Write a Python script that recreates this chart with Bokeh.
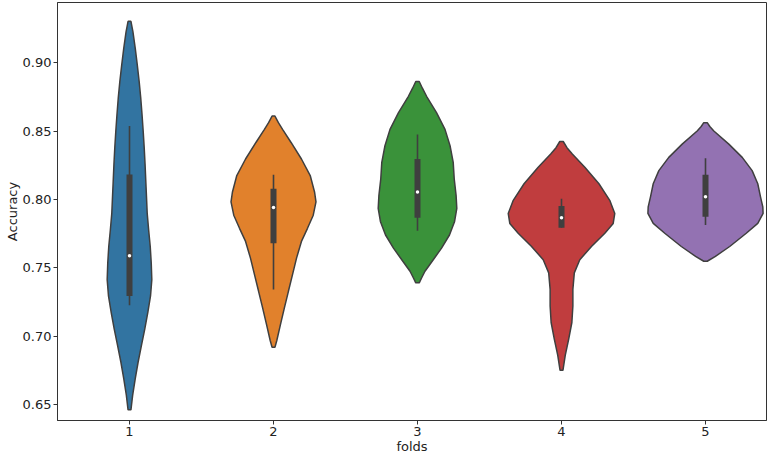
from bokeh.plotting import figure
from bokeh.models import Range1d, FixedTicker
from bokeh.embed import file_html
from bokeh.resources import INLINE

folds = ["1", "2", "3", "4", "5"]
colors = ["#3274a1", "#e1812c", "#3a923a", "#c03d3e", "#9372b2"]

# violin profiles: accuracy levels (top to bottom) and half-widths (category units)
acc1 = [0.9304, 0.9227, 0.9107, 0.8986, 0.8865, 0.8744, 0.8623, 0.8502, 0.8382, 0.8261,
        0.8140, 0.8020, 0.7899, 0.7778, 0.7657, 0.7536, 0.7415, 0.7295, 0.7174, 0.7053,
        0.6933, 0.6812, 0.6691, 0.6570, 0.6462]
half1 = [0.010, 0.024, 0.040, 0.054, 0.067, 0.078, 0.087, 0.095, 0.102, 0.108,
         0.113, 0.118, 0.123, 0.133, 0.144, 0.151, 0.155, 0.146, 0.127, 0.106,
         0.083, 0.060, 0.040, 0.022, 0.010]

acc2 = [0.8611, 0.8563, 0.8514, 0.8418, 0.8297, 0.8176, 0.8056, 0.7983, 0.7886, 0.7790,
        0.7694, 0.7572, 0.7451, 0.7331, 0.7210, 0.7089, 0.6969, 0.6920]
half2 = [0.010, 0.034, 0.063, 0.122, 0.194, 0.255, 0.285, 0.295, 0.276, 0.236,
         0.194, 0.160, 0.132, 0.104, 0.076, 0.049, 0.023, 0.010]

acc3 = [0.8864, 0.8815, 0.8756, 0.8636, 0.8514, 0.8394, 0.8273, 0.8152, 0.8031, 0.7935,
        0.7838, 0.7741, 0.7645, 0.7549, 0.7476, 0.7430, 0.7391]
half3 = [0.012, 0.034, 0.063, 0.132, 0.191, 0.226, 0.248, 0.255, 0.268, 0.273,
         0.257, 0.222, 0.167, 0.102, 0.052, 0.030, 0.012]

acc4 = [0.8425, 0.8380, 0.8333, 0.8237, 0.8116, 0.7995, 0.7899, 0.7826, 0.7754, 0.7657,
        0.7560, 0.7464, 0.7343, 0.7222, 0.7101, 0.6980, 0.6860, 0.6751]
half4 = [0.012, 0.038, 0.075, 0.162, 0.260, 0.335, 0.370, 0.359, 0.301, 0.208,
         0.127, 0.089, 0.079, 0.079, 0.072, 0.050, 0.026, 0.010]

acc5 = [0.8563, 0.8535, 0.8502, 0.8406, 0.8309, 0.8212, 0.8116, 0.8020, 0.7947, 0.7899,
        0.7826, 0.7754, 0.7657, 0.7585, 0.7549]
half5 = [0.012, 0.030, 0.058, 0.162, 0.255, 0.324, 0.363, 0.382, 0.398, 0.400,
         0.363, 0.283, 0.168, 0.069, 0.012]

# inner box statistics
whisker_lo = [0.7227, 0.7343, 0.7773, 0.7795, 0.7814]
q1 = [0.7295, 0.7681, 0.7867, 0.7795, 0.7875]
median = [0.7589, 0.7942, 0.8056, 0.7867, 0.8020]
q3 = [0.8183, 0.8080, 0.8297, 0.7954, 0.8181]
whisker_hi = [0.8538, 0.8181, 0.8476, 0.8007, 0.8302]

y_ticks = [0.65, 0.70, 0.75, 0.80, 0.85, 0.90]

accs = [acc1, acc2, acc3, acc4, acc5]
halves = [half1, half2, half3, half4, half5]
pos = list(range(len(folds)))

p = figure(width=767, height=456, output_backend="svg", toolbar_location=None,
           x_range=Range1d(-0.5, 4.4236), y_range=Range1d(0.6384, 0.9442),
           min_border_left=57, min_border_right=1, min_border_top=2, min_border_bottom=32)

xs, ys = [], []
for i, (a, h) in enumerate(zip(accs, halves)):
    right = [i + w for w in h]
    left = [i - w for w in reversed(h)]
    xs.append(right + left)
    ys.append(list(a) + list(reversed(a)))

edge = "#3f3f3f"
p.patches(xs, ys, fill_color=colors, line_color=edge, line_width=1.5)
p.segment(x0=pos, y0=whisker_lo, x1=pos, y1=whisker_hi, line_color=edge, line_width=1.6)
p.segment(x0=pos, y0=q1, x1=pos, y1=q3, line_color=edge, line_width=6, line_cap="butt")
p.scatter(x=pos, y=median, size=3.5, fill_color="white", line_color=None)

p.xgrid.visible = False
p.ygrid.visible = False
p.outline_line_color = "#333333"
p.outline_line_width = 1
p.background_fill_color = "white"
p.border_fill_color = "white"

p.xaxis.ticker = FixedTicker(ticks=pos)
p.xaxis.major_label_overrides = {i: f for i, f in enumerate(folds)}
p.yaxis.ticker = FixedTicker(ticks=y_ticks)
p.yaxis.major_label_overrides = {t: f"{t:.2f}" for t in y_ticks}
p.xaxis.axis_label = "folds"
p.yaxis.axis_label = "Accuracy"

for ax in (p.xaxis[0], p.yaxis[0]):
    ax.axis_line_color = "#333333"
    ax.axis_line_width = 1
    ax.major_tick_line_color = "#333333"
    ax.major_tick_out = 4
    ax.major_tick_in = 0
    ax.minor_tick_line_color = None
    ax.major_label_text_font = "DejaVu Sans"
    ax.major_label_text_font_size = "13px"
    ax.major_label_text_color = "#222222"
    ax.axis_label_text_font = "DejaVu Sans"
    ax.axis_label_text_font_size = "13px"
    ax.axis_label_text_font_style = "normal"
    ax.axis_label_text_color = "#222222"
    ax.major_label_standoff = 2
    ax.axis_label_standoff = 0

open("out.html", "w").write(file_html(p, INLINE))
